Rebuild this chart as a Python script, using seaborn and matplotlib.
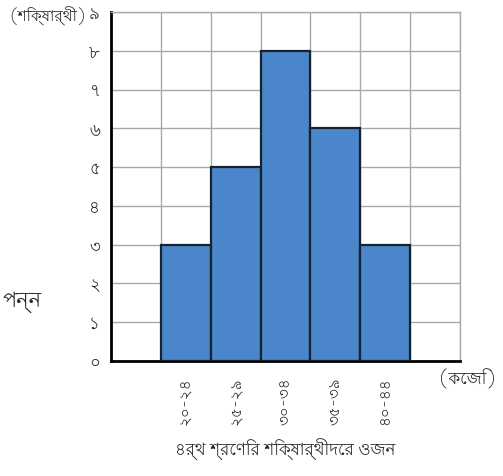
import matplotlib
matplotlib.use("Agg")
import matplotlib.pyplot as plt
import seaborn as sns
from matplotlib import font_manager

# ── Data ───────────────────────────────────────────────────
weight_classes = ["২০-২৪", "২৫-২৯", "৩০-৩৪", "৩৫-৩৯", "৪০-৪৪"]
students = [3, 5, 8, 6, 3]
y_ticks = list(range(10))
y_tick_labels = ["০", "১", "২", "৩", "৪", "৫", "৬", "৭", "৮", "৯"]

# ── Style ──────────────────────────────────────────────────
sns.set_theme(style="white")
names = sorted({f.name for f in font_manager.fontManager.ttflist})
bengali = [n for n in names if "Bengali" in n or "Lohit" in n or "Kalpurush" in n
           or "SolaimanLipi" in n or "Mukti" in n]
FAMILY = bengali[:1] + ["DejaVu Sans"]
plt.rcParams["font.family"] = FAMILY

BAR = "#4a86c9"
EDGE = "#16222e"
GRID = "#a9a9a9"

fig = plt.figure(figsize=(5.03, 4.76), dpi=100)
ax = fig.add_axes([0.2207, 0.2416, 0.6938, 0.7332])

sns.barplot(x=weight_classes, y=students, ax=ax, color=BAR, width=1.0,
            edgecolor=EDGE, linewidth=1.6, saturation=1, zorder=3)

ax.set_yticks(y_ticks)
ax.set_yticklabels(y_tick_labels, fontsize=12, fontweight="bold")
ax.set_xticks(range(len(weight_classes)))
ax.set_xticklabels(weight_classes, rotation=90, fontsize=11, fontweight="bold")
ax.set_xticks([i - 1.5 for i in range(len(weight_classes) + 3)], minor=True)
ax.set_xlim(-1.5, 5.5)
ax.set_ylim(0, 9)

ax.grid(True, which="major", axis="y", color=GRID, linewidth=1.0, zorder=0)
ax.grid(True, which="minor", axis="x", color=GRID, linewidth=1.0, zorder=0)
ax.grid(False, which="major", axis="x")
ax.tick_params(axis="y", direction="in", length=8, width=1.5, color="black", pad=8)
ax.tick_params(axis="x", which="both", length=0, pad=12)

for s in ["left", "bottom"]:
    ax.spines[s].set_color("black")
    ax.spines[s].set_linewidth(2)
for s in ["top", "right"]:
    ax.spines[s].set_color(GRID)
    ax.spines[s].set_linewidth(1.0)

ax.set_xlabel("৪র্থ শ্রেণির শিক্ষার্থীদের ওজন", fontsize=12, fontweight="bold", labelpad=10)
ax.set_ylabel("")

fig.text(0.018, 0.965, "(শিক্ষার্থী)", fontsize=11, fontweight="bold",
         ha="left", va="center")
fig.text(0.93, 0.205, "(কেজি)", fontsize=12, fontweight="bold",
         ha="center", va="center")
fig.text(0.006, 0.365, "পন্ন", fontsize=15, ha="left", va="center")

fig.savefig("out.png", dpi=100)
